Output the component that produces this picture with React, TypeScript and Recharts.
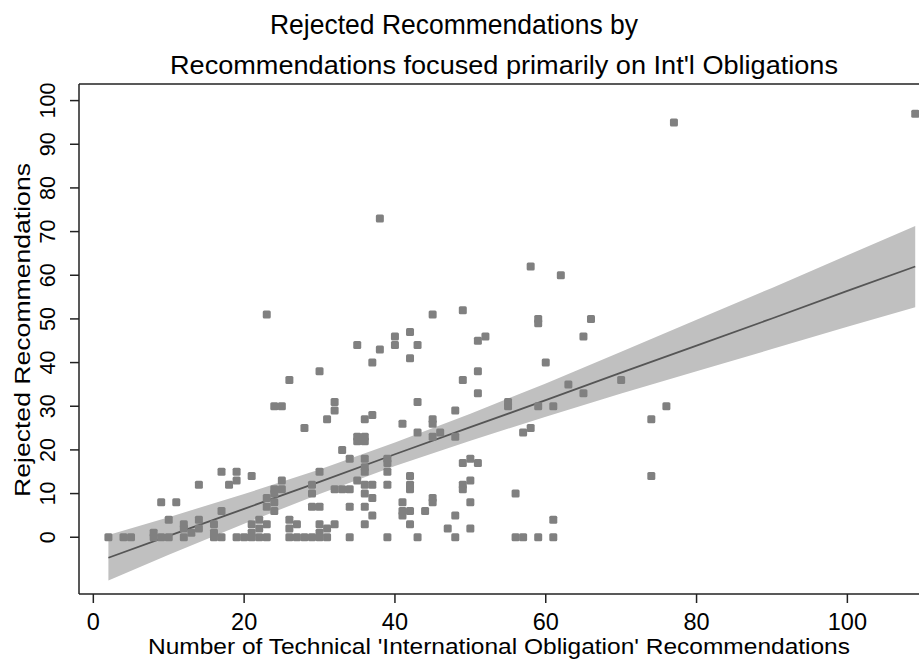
import { ComposedChart, Area, Line, Scatter, XAxis, YAxis, ReferenceLine } from 'recharts'

const font = '"Liberation Sans", Arial, sans-serif'
const ink = '#222'

const title = 'Rejected Recommendations by'
const subtitle = "Recommendations focused primarily on Int'l Obligations"
const xTitle = "Number of Technical 'International Obligation' Recommendations"
const yTitle = 'Rejected Recommendations'

const xTicks = [0, 20, 40, 60, 80, 100]
const yTicks = [0, 10, 20, 30, 40, 50, 60, 70, 80, 90, 100]
const X_MIN = -1.9
const X_MAX = 109.5
const Y_MIN = -13
const Y_MAX = 103.8

// linear fit + 95% CI
const fitX = [2, 10, 20, 30, 40, 50, 60, 70, 80, 90, 100, 109]
const fitY = [-4.7, 0.3, 6.5, 12.7, 19.0, 25.2, 31.4, 37.7, 43.9, 50.1, 56.4, 62.0]
const ciLow = [-9.9, -4.0, 3.1, 9.9, 16.3, 22.1, 27.6, 32.9, 38.0, 43.1, 48.2, 52.7]
const ciHigh = [0.5, 4.6, 9.9, 15.5, 21.7, 28.3, 35.2, 42.5, 49.8, 57.1, 64.6, 71.3]

// [technical IO recs, rejected recs]
const zeroRow: [number, number][] = [
  [2, 0], [4, 0], [5, 0], [8, 0], [9, 0], [10, 0], [12, 0], [16, 0], [17, 0], [19, 0],
  [20, 0], [21, 0], [22, 0], [23, 0], [26, 0], [27, 0], [28, 0], [29, 0], [30, 0], [31, 0],
  [34, 0], [39, 0], [43, 0], [48, 0], [56, 0], [57, 0], [59, 0], [61, 0],
]
const lowPts: [number, number][] = [
  [8, 1], [10, 4], [12, 2], [12, 3], [13, 1], [14, 2], [14, 4], [16, 3], [16, 1], [17, 6],
  [21, 1], [21, 3], [22, 4], [22, 2], [23, 7], [23, 3], [24, 6], [26, 4], [26, 2], [27, 3],
  [30, 1], [30, 3], [31, 2], [32, 3], [36, 3], [37, 5], [42, 3], [47, 2], [50, 2], [61, 4],
  [41, 5], [41, 6], [42, 6], [44, 6], [48, 5],
]
const midPts: [number, number][] = [
  [9, 8], [11, 8], [14, 12], [17, 15], [18, 12], [19, 15], [19, 13], [21, 14], [23, 9], [24, 8],
  [24, 10], [24, 11], [25, 11], [25, 13], [29, 7], [30, 7], [29, 10], [29, 12], [30, 15], [32, 11],
  [33, 11], [34, 11], [35, 13], [34, 7], [36, 7], [36, 10], [36, 12], [37, 9], [37, 12], [39, 12],
  [39, 15], [39, 17], [39, 18], [42, 11], [42, 12], [42, 14], [41, 8], [45, 8], [45, 9], [50, 8],
  [49, 11], [49, 12], [50, 13], [49, 17], [50, 18], [51, 17], [56, 10], [36, 15], [36, 16], [36, 18],
  [74, 14],
]
const highPts: [number, number][] = [
  [33, 20], [34, 18], [35, 22], [36, 22], [35, 23], [36, 23], [28, 25], [31, 27], [32, 29], [32, 31],
  [24, 30], [25, 30], [36, 27], [37, 28], [41, 26], [43, 24], [43, 31], [45, 26], [45, 27], [45, 23],
  [46, 24], [48, 23], [48, 29], [55, 30], [55, 31], [57, 24], [58, 25], [59, 30], [61, 30], [63, 35],
  [65, 33], [70, 36], [74, 27], [76, 30], [60, 40], [30, 38], [26, 36], [49, 36], [51, 38], [51, 33],
  [37, 40], [42, 41], [35, 44], [38, 43], [40, 44], [40, 46], [42, 47], [43, 44], [45, 51], [49, 52],
  [51, 45], [52, 46], [59, 49], [59, 50], [66, 50], [65, 46], [58, 62], [62, 60], [23, 51], [38, 73],
  [77, 95], [109, 97],
]

const points = [...zeroRow, ...lowPts, ...midPts, ...highPts].map(([x, y]) => ({ x, y }))
const fitRows = fitX.map((x, i) => ({ x, fit: fitY[i], band: [ciLow[i], ciHigh[i]] }))

const Square = (p: any) => (
  <rect x={p.cx - 4} y={p.cy - 4} width={8} height={8} rx={1.5} fill="#808080" />
)

const XTick = (p: any) => (
  <text x={p.x} y={630} textAnchor="middle" fontSize={23.5} fontFamily={font} fill="#000">
    {p.payload.value}
  </text>
)

const YTick = (p: any) => (
  <text x={55} y={p.y} transform={`rotate(-90, 55, ${p.y})`} textAnchor="middle"
    fontSize={21.5} fontFamily={font} fill="#000">
    {p.payload.value}
  </text>
)

export default function App() {
  return (
    <div style={{ position: 'absolute', left: 0, top: 0, width: 919, height: 661, background: '#fff' }}>
      <ComposedChart width={919} height={661} data={fitRows}
        margin={{ top: 84, right: 0, bottom: 0, left: 0 }}>
        <XAxis type="number" dataKey="x" domain={[X_MIN, X_MAX]} ticks={xTicks} allowDataOverflow
          height={67} tickSize={9} tick={XTick} axisLine={{ stroke: ink, strokeWidth: 1.5 }}
          tickLine={{ stroke: ink, strokeWidth: 1.5 }} />
        <YAxis type="number" dataKey="y" domain={[Y_MIN, Y_MAX]} ticks={yTicks} allowDataOverflow
          width={79} tickSize={9} tick={YTick} axisLine={{ stroke: ink, strokeWidth: 1.5 }}
          tickLine={{ stroke: ink, strokeWidth: 1.5 }} />
        <ReferenceLine y={Y_MAX} stroke={ink} strokeWidth={1.5} />
        <Area dataKey="band" type="linear" stroke="none" fill="#c0c0c0" fillOpacity={1}
          isAnimationActive={false} />
        <Line dataKey="fit" type="linear" stroke="#555" strokeWidth={1.8} dot={false}
          isAnimationActive={false} />
        <Scatter data={points} shape={Square} isAnimationActive={false} />
      </ComposedChart>
      <svg width={919} height={661} style={{ position: 'absolute', left: 0, top: 0, pointerEvents: 'none' }}>
        <text x={454} y={34} textAnchor="middle" fontSize={28} textLength={368} lengthAdjust="spacingAndGlyphs"
          fontFamily={font} fill="#000">{title}</text>
        <text x={504} y={74} textAnchor="middle" fontSize={25} textLength={668} lengthAdjust="spacingAndGlyphs"
          fontFamily={font} fill="#000">{subtitle}</text>
        <text x={499} y={654} textAnchor="middle" fontSize={22} textLength={702} lengthAdjust="spacingAndGlyphs"
          fontFamily={font} fill="#000">{xTitle}</text>
        <text x={30} y={330} transform="rotate(-90, 30, 330)" textAnchor="middle" fontSize={22}
          textLength={334} lengthAdjust="spacingAndGlyphs" fontFamily={font} fill="#000">{yTitle}</text>
      </svg>
    </div>
  )
}
